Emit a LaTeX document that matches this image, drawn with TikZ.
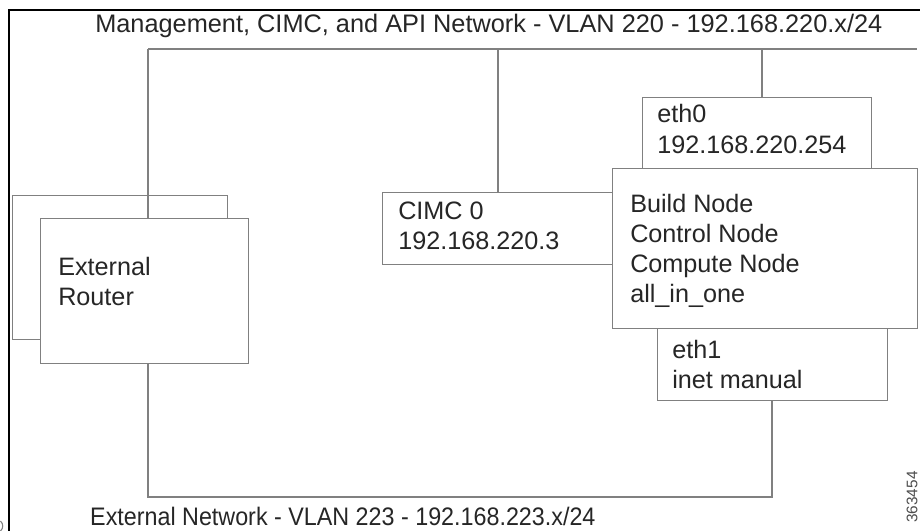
\documentclass[tikz,border=0pt]{standalone}
\usepackage{fontspec}
\setmainfont{Liberation Sans}
\begin{document}
\begin{tikzpicture}[x=0.75pt,y=-0.75pt,
  wire/.style={draw=black!50,line width=1pt},
  box/.style={draw=black!50,line width=1pt,fill=white,rectangle,inner sep=0pt,anchor=north west},
  lbl/.style={anchor=base west,align=left,inner sep=0pt,text=black!85,
    font=\fontsize{18.9}{22.5}\selectfont},
  netlbl/.style={anchor=base west,inner sep=0pt,text=black!85,
    font=\fontsize{19}{22.5}\selectfont}]
\useasboundingbox (0,0) rectangle (920,531);
\fill[white] (0,0) rectangle (920,531);

% outer frame (top and left edges)
\draw[black,line width=2.2pt] (9,531) -- (9,10) -- (920,10);

% network labels
\node[netlbl] (mgmtlbl) at (95,33) {Management, CIMC, and API Network - VLAN 220 - 192.168.220.x/24};
\node[netlbl,xscale=0.92] (extlbl) at (90,525) {External Network - VLAN 223 - 192.168.223.x/24};

% management bus taps
\coordinate (m1) at (148,49);
\coordinate (m2) at (498,49);
\coordinate (m3) at (762,49);
\coordinate (mend) at (917,49);
% external bus
\coordinate (e1) at (148,497);
\coordinate (e2) at (772,497);

% sizes are given in picture units (0.75pt each); labels sit on their last baseline
% router with the box stacked behind it
\node[box,minimum width=215*0.75pt,minimum height=144*0.75pt] (rtrback) at (12,195) {};
\node[box,minimum width=208*0.75pt,minimum height=145*0.75pt] (rtr) at (40,218) {};
\node[lbl] (rtrtxt) at (58,305) {External\\Router};

% CIMC
\node[box,minimum width=230*0.75pt,minimum height=72*0.75pt] (cimc) at (382,192) {};
\node[lbl] (cimctxt) at (398,249) {CIMC 0\\192.168.220.3};

% server with its two interfaces
\node[box,minimum width=229*0.75pt,minimum height=71*0.75pt] (eth0) at (642,97) {};
\node[lbl] (eth0txt) at (657,153) {eth0\\192.168.220.254};
\node[box,minimum width=305*0.75pt,minimum height=160*0.75pt] (srv) at (612,168) {};
\node[lbl] (srvtxt) at (630,302) {Build Node\\Control Node\\Compute Node\\all\_in\_one};
\node[box,minimum width=230*0.75pt,minimum height=72*0.75pt] (eth1) at (657,328) {};
\node[lbl] (eth1txt) at (672,388) {eth1\\inet manual};

% management network
\draw[wire] (m1) -- (mend);
\draw[wire] (m1) -- (m1 |- rtr.north);
\draw[wire] (m2) -- (m2 |- cimc.north);
\draw[wire] (m3) -- (m3 |- eth0.north);
% external network
\draw[wire] (e1 |- rtr.south) -- (e1) -- (e2) -- (e2 |- eth1.south);

% drawing number
\node[rotate=90,inner sep=0pt,text=black!70,font=\fontsize{11.5}{13}\selectfont] (dwgno) at (912,497) {363454};
% clipped glyph at the lower left edge
\draw[black!50,line width=0.8pt] (0.5,521) .. controls (3.5,524) and (3.5,528) .. (0.5,531);
\end{tikzpicture}
\end{document}
